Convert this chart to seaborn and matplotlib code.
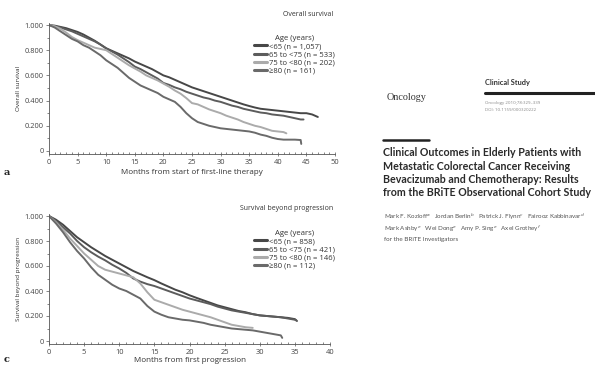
import pandas as pd
import numpy as np
import matplotlib.pyplot as plt
import seaborn as sns
from matplotlib.lines import Line2D
from matplotlib.ticker import MultipleLocator, FixedLocator

sns.set_style("ticks")
plt.rcParams["font.family"] = ["Open Sans", "DejaVu Sans"]

W, H = 595, 365

# ---------------- data: panel a, overall survival ----------------
os_labels = ["<65 (n = 1,057)", "65 to <75 (n = 533)", "75 to <80 (n = 202)", "\u226580 (n = 161)"]
os_t_lt65 = list(range(0, 48))
os_s_lt65 = [1.0, 0.995, 0.985, 0.975, 0.96, 0.945, 0.925, 0.90, 0.875, 0.845,
             0.815, 0.795, 0.775, 0.755, 0.735, 0.71, 0.69, 0.67, 0.65, 0.625,
             0.60, 0.585, 0.565, 0.545, 0.525, 0.505, 0.49, 0.475, 0.46, 0.445,
             0.43, 0.415, 0.40, 0.385, 0.37, 0.357, 0.345, 0.335, 0.33, 0.325,
             0.32, 0.315, 0.31, 0.305, 0.30, 0.30, 0.29, 0.27]
os_t_65_75 = list(range(0, 45)) + [44.5]
os_s_65_75 = [1.0, 0.99, 0.98, 0.965, 0.95, 0.93, 0.91, 0.89, 0.87, 0.845,
              0.815, 0.79, 0.765, 0.735, 0.705, 0.67, 0.65, 0.625, 0.60, 0.575,
              0.54, 0.525, 0.505, 0.49, 0.47, 0.455, 0.44, 0.425, 0.415, 0.40,
              0.39, 0.375, 0.36, 0.35, 0.335, 0.325, 0.315, 0.305, 0.30, 0.29,
              0.285, 0.28, 0.27, 0.26, 0.25, 0.25]
os_t_75_80 = list(range(0, 42)) + [41.5]
os_s_75_80 = [1.0, 0.99, 0.97, 0.94, 0.905, 0.88, 0.86, 0.84, 0.82, 0.81,
              0.80, 0.77, 0.74, 0.71, 0.68, 0.655, 0.63, 0.60, 0.58, 0.56,
              0.535, 0.51, 0.48, 0.455, 0.42, 0.38, 0.37, 0.35, 0.33, 0.315,
              0.30, 0.28, 0.265, 0.25, 0.23, 0.215, 0.20, 0.19, 0.175, 0.16,
              0.155, 0.15, 0.14]
os_t_ge80 = list(range(0, 45)) + [44.1]
os_s_ge80 = [1.0, 0.98, 0.95, 0.92, 0.89, 0.87, 0.84, 0.82, 0.79, 0.76,
             0.72, 0.69, 0.66, 0.62, 0.58, 0.55, 0.52, 0.50, 0.48, 0.46,
             0.43, 0.41, 0.39, 0.35, 0.30, 0.26, 0.23, 0.215, 0.20, 0.19,
             0.18, 0.175, 0.17, 0.165, 0.16, 0.155, 0.145, 0.13, 0.12, 0.105,
             0.095, 0.09, 0.09, 0.09, 0.087, 0.056]

# ---------------- data: panel c, survival beyond progression ----------------
sp_labels = ["<65 (n = 858)", "65 to <75 (n = 421)", "75 to <80 (n = 146)", "\u226580 (n = 112)"]
sp_t_lt65 = list(range(0, 36)) + [35.3]
sp_s_lt65 = [1.0, 0.97, 0.93, 0.88, 0.83, 0.79, 0.75, 0.715, 0.68, 0.65,
             0.62, 0.59, 0.56, 0.535, 0.51, 0.487, 0.46, 0.435, 0.41, 0.39,
             0.366, 0.345, 0.325, 0.305, 0.285, 0.27, 0.255, 0.24, 0.23, 0.215,
             0.205, 0.20, 0.195, 0.19, 0.185, 0.175, 0.16]
sp_t_65_75 = list(range(0, 36)) + [35.2]
sp_s_65_75 = [1.0, 0.96, 0.91, 0.86, 0.80, 0.75, 0.71, 0.675, 0.645, 0.61,
              0.58, 0.545, 0.50, 0.475, 0.455, 0.44, 0.42, 0.40, 0.38, 0.36,
              0.34, 0.325, 0.31, 0.295, 0.275, 0.26, 0.245, 0.235, 0.225, 0.215,
              0.205, 0.20, 0.195, 0.19, 0.18, 0.17, 0.165]
sp_t_75_80 = list(range(0, 30))
sp_s_75_80 = [1.0, 0.95, 0.89, 0.82, 0.76, 0.70, 0.65, 0.60, 0.57, 0.555,
              0.54, 0.525, 0.51, 0.46, 0.39, 0.33, 0.31, 0.29, 0.27, 0.25,
              0.235, 0.22, 0.205, 0.19, 0.17, 0.15, 0.13, 0.12, 0.11, 0.105]
sp_t_ge80 = list(range(0, 34)) + [33.2]
sp_s_ge80 = [1.0, 0.94, 0.87, 0.79, 0.72, 0.66, 0.59, 0.53, 0.49, 0.45,
             0.42, 0.40, 0.37, 0.34, 0.28, 0.235, 0.21, 0.19, 0.18, 0.17,
             0.165, 0.155, 0.145, 0.13, 0.12, 0.11, 0.10, 0.095, 0.09, 0.085,
             0.075, 0.065, 0.055, 0.045, 0.025]

line_colors = ["#474747", "#5c5c5c", "#ababab", "#6a6a6a"]


def long_df(labels, ts, ss):
    parts = [pd.DataFrame({"t": t, "s": s, "group": lab}) for lab, t, s in zip(labels, ts, ss)]
    return pd.concat(parts, ignore_index=True)


df_os = long_df(os_labels, [os_t_lt65, os_t_65_75, os_t_75_80, os_t_ge80],
                [os_s_lt65, os_s_65_75, os_s_75_80, os_s_ge80])
df_sp = long_df(sp_labels, [sp_t_lt65, sp_t_65_75, sp_t_75_80, sp_t_ge80],
                [sp_s_lt65, sp_s_65_75, sp_s_75_80, sp_s_ge80])


def fx(x):
    return x / W


def fy(y):
    return 1 - y / H


fig = plt.figure(figsize=(W / 100, H / 100), dpi=100)
ax_a = fig.add_axes([fx(49), fy(154), 286 / W, 131 / H])
ax_c = fig.add_axes([fx(49), fy(344), 281 / W, 130 / H])


def km_panel(ax, df, labels, xmax, xlabel, ylabel, title, title_y, leg_y, xpad):
    sns.lineplot(data=df, x="t", y="s", hue="group", hue_order=labels,
                 palette=line_colors, linewidth=1.4,
                 estimator=None, sort=False, ax=ax)
    ax.set_xlim(0, xmax)
    ax.set_ylim(-0.024, 1.016)
    ax.xaxis.set_major_locator(MultipleLocator(5))
    ax.xaxis.set_minor_locator(MultipleLocator(1))
    ax.yaxis.set_major_locator(FixedLocator([0, 0.2, 0.4, 0.6, 0.8, 1.0]))
    ax.yaxis.set_minor_locator(MultipleLocator(0.1))
    ax.set_yticklabels(["0", "0.200", "0.400", "0.600", "0.800", "1.000"])
    ax.tick_params(axis="both", which="major", labelsize=5.4, length=2.2, width=0.5,
                   colors="#555555", labelcolor="#444444", pad=1.5)
    ax.tick_params(axis="x", which="major", direction="inout", length=3.5)
    ax.tick_params(axis="x", which="minor", direction="in", length=1.8, width=0.5, colors="#555555")
    ax.tick_params(axis="y", which="minor", length=1.3, width=0.5, colors="#555555")
    sns.despine(ax=ax)
    for sp in ["left", "bottom"]:
        ax.spines[sp].set_linewidth(0.6)
        ax.spines[sp].set_color("#555555")
    ax.set_xlabel(xlabel, fontsize=5.8, color="#333333", labelpad=xpad)
    ax.set_ylabel(ylabel, fontsize=4.6, color="#333333", labelpad=3)
    ax.patch.set_alpha(0)
    fig.text(fx(333), fy(title_y), title, ha="right", va="center", fontsize=5, color="#333333")
    sns.move_legend(ax, "upper left", bbox_to_anchor=(fx(254), fy(leg_y)),
                    bbox_transform=fig.transFigure, title="Age (years)", frameon=False,
                    fontsize=5.5, title_fontsize=5.6, handlelength=1.7, handletextpad=0.3,
                    labelspacing=0.1, borderpad=0, borderaxespad=0)
    leg = ax.get_legend()
    for h in leg.legend_handles:
        h.set_linewidth(2.2)
    for t in leg.get_texts():
        t.set_color("#333333")
    leg.get_title().set_color("#333333")


km_panel(ax_a, df_os, os_labels, 50, "Months from start of first-line therapy",
         "Overall survival", "Overall survival", 15, 35, 2.5)
km_panel(ax_c, df_sp, sp_labels, 40, "Months from first progression",
         "Survival beyond progression", "Survival beyond progression", 208, 230, 0.8)

fig.text(fx(4), fy(173), "a", fontsize=7, fontweight="bold", color="#222222",
         family="DejaVu Serif", va="center")
fig.text(fx(4), fy(360), "c", fontsize=7, fontweight="bold", color="#222222",
         family="DejaVu Serif", va="center")

# ---------------- article header on the right ----------------
fig.text(fx(387), fy(98), "Oncology", family="Liberation Serif", fontsize=7.3,
         color="#333333", va="center")
fig.text(fx(485), fy(82), "Clinical Study", fontsize=5.3, fontweight="bold",
         color="#333333", va="center", family="Lato")
fig.add_artist(Line2D([fx(485), 1.0], [fy(93), fy(93)], color="#222222", lw=2.2,
                      transform=fig.transFigure))
fig.text(fx(485), fy(103), "Oncology 2010;78:329\u2013339", fontsize=3.2,
         color="#888888", va="center")
fig.text(fx(485), fy(110), "DOI: 10.1159/000320222", fontsize=3.2,
         color="#888888", va="center")
fig.add_artist(Line2D([fx(383), fx(429)], [fy(140), fy(140)], color="#222222", lw=1.8,
                      transform=fig.transFigure))

title_lines = ["Clinical Outcomes in Elderly Patients with",
               "Metastatic Colorectal Cancer Receiving",
               "Bevacizumab and Chemotherapy: Results",
               "from the BRiTE Observational Cohort Study"]
for i, line in enumerate(title_lines):
    fig.text(fx(383), fy(153 + i * 13.3), line, fontsize=7.7, fontweight="bold",
             color="#2a2a2a", va="center", family="Lato")

author_lines = [r"Mark F. Kozloff$^{a}$   Jordan Berlin$^{b}$   Patrick J. Flynn$^{c}$   Fairooz Kabbinavar$^{d}$",
                r"Mark Ashby$^{e}$   Wei Dong$^{e}$   Amy P. Sing$^{e}$   Axel Grothey$^{f}$",
                "for the BRiTE Investigators"]
for i, line in enumerate(author_lines):
    fig.text(fx(384), fy(217 + i * 11.5), line, fontsize=4.5, color="#555555",
             va="center", family="Lato")

plt.savefig("out.png", dpi=100)
plt.close()
